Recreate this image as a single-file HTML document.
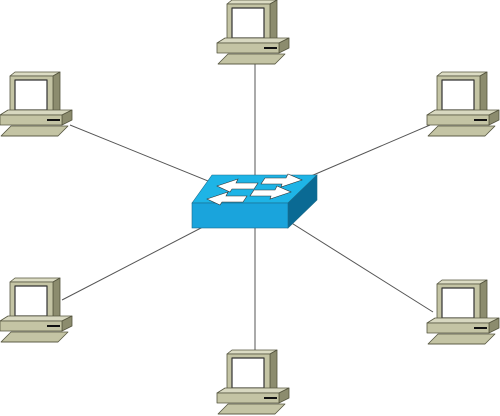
<!DOCTYPE html>
<html><head><style>html,body{margin:0;padding:0;background:#fff;width:500px;height:416px;overflow:hidden}</style></head>
<body>
<svg width="500" height="416" viewBox="0 0 500 416" xmlns="http://www.w3.org/2000/svg">
<defs>
<g id="pc" stroke="#55553f" stroke-width="0.8" stroke-linejoin="round">
  <polygon points="10,4 15,0 60,0 53,4" fill="#dcdcc4"/>
  <polygon points="53,4 60,0 60,38 53,42" fill="#8c8c6e"/>
  <rect x="10" y="4" width="43" height="38" fill="#c4c4a4"/>
  <rect x="15" y="8" width="32" height="30" fill="#fff" stroke="#333" stroke-width="1.2"/>
  <polygon points="0,43 8,38 72,38 62,43" fill="#d8d8c0"/>
  <polygon points="62,43 72,38 72,48 62,53" fill="#8c8c6e"/>
  <rect x="0" y="43" width="62" height="10" fill="#c4c4a4"/>
  <line x1="47" y1="48" x2="60" y2="48" stroke="#111" stroke-width="2"/>
  <polygon points="11,54 68,54 58,64 1,64" fill="#c4c4a4"/>
  <line x1="1" y1="64" x2="58" y2="64" stroke="#55553f"/>
</g>
</defs>
<g stroke="#555" stroke-width="1">
<line x1="255" y1="200" x2="255" y2="63"/>
<line x1="255" y1="200" x2="70" y2="125"/>
<line x1="255" y1="200" x2="430" y2="125"/>
<line x1="255" y1="200" x2="62" y2="300"/>
<line x1="255" y1="200" x2="255" y2="350"/>
<line x1="255" y1="200" x2="433" y2="312"/>
</g>
<use href="#pc" x="217" y="0"/>
<use href="#pc" x="0" y="72"/>
<use href="#pc" x="427" y="72"/>
<use href="#pc" x="0" y="278"/>
<use href="#pc" x="217" y="350"/>
<use href="#pc" x="427" y="280"/>
<g stroke="#1a6a8a" stroke-width="0.6">
<polygon points="192,203 212,175 317,175 288,203" fill="#1eb4e6"/>
<polygon points="288,203 317,175 317,200 288,228" fill="#0a6a94"/>
<rect x="192" y="203" width="96" height="25" fill="#1aa4dc"/>
</g>
<g fill="#fff" stroke="#333" stroke-width="0.6">
<polygon points="217,186 238,179 236,183 258,183 254,189 232,189 230,192"/>
<polygon points="302,180 281,187 282,184 261,184 265,178 286,178 288,174"/>
<polygon points="207,199 228,192 226,196 247,196 243,202 222,202 220,205"/>
<polygon points="291,192 270,199 271,196 250,196 254,190 275,190 277,186"/>
</g>
</svg>
</body></html>
